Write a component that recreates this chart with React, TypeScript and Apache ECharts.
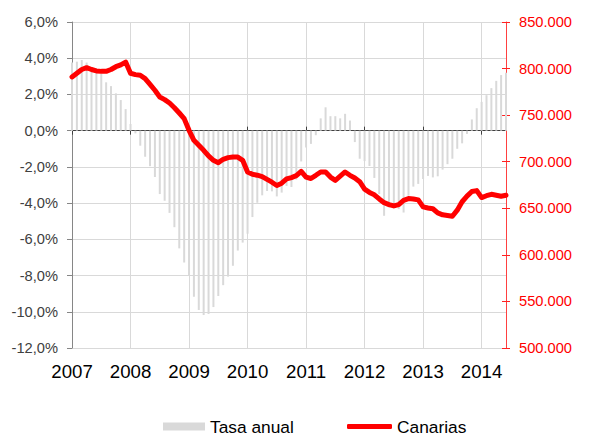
import React, { useEffect, useRef } from "react";
import * as echarts from "echarts";

const years = ["2007", "2008", "2009", "2010", "2011", "2012", "2013", "2014"];
const monthsPerYear = [12, 12, 12, 12, 12, 12, 12, 6];

const tasaAnual: number[] = [
  // 2007
  3.76, 3.81, 3.9, 3.76, 3.5, 3.3, 3.15, 2.67, 2.46, 2.06, 1.69, 1.19,
  // 2008
  0.37, -0.15, -0.83, -1.44, -1.96, -2.56, -3.5, -3.87, -4.54, -5.33, -6.5, -7.28,
  // 2009
  -8.0, -9.17, -9.9, -10.18, -10.12, -9.74, -9.13, -8.53, -8.06, -7.46, -6.62, -6.18,
  // 2010
  -5.69, -4.77, -3.98, -3.57, -3.33, -3.35, -3.63, -3.42, -3.05, -3.11, -2.7, -1.7,
  // 2011
  -0.93, -0.73, -0.25, 0.68, 1.29, 0.8, 0.8, 0.68, 0.93, 0.56, -0.63, -1.55,
  // 2012
  -1.68, -1.95, -2.61, -3.5, -4.7, -4.24, -4.24, -4.33, -4.52, -3.59, -3.09, -2.94,
  // 2013
  -2.67, -2.5, -2.58, -2.52, -2.15, -1.85, -1.55, -1.0, -0.7, -0.18, 0.62, 1.24,
  // 2014
  1.59, 1.96, 2.35, 2.75, 3.07, 3.2,
];

const canarias: number[] = [
  // 2007
  791000, 795000, 799000, 801000, 799000, 797500, 797000, 797000, 799000, 802000, 804000, 807000,
  // 2008
  795000, 793500, 792800, 789200, 783000, 776700, 769500, 766700, 763000, 758000, 752300, 746300,
  // 2009
  733700, 723000, 717600, 712300, 706200, 701500, 699000, 702600, 704400, 705000, 705000, 701500,
  // 2010
  689000, 686500, 685500, 684000, 681000, 678000, 674500, 677000, 681500, 683000, 685000, 689700,
  // 2011
  683500, 682000, 685400, 689000, 689000, 683500, 680000, 684500, 689000, 685400, 682500, 678500,
  // 2012
  670500, 667000, 664500, 660000, 656000, 654000, 652500, 654000, 658500, 660400, 660000, 659000,
  // 2013
  651500, 650300, 649500, 645000, 643000, 642300, 641500, 648000, 657000, 663000, 668000, 669000,
  // 2014
  661500, 663500, 665000, 664000, 663000, 664000,
];

const leftTicks = { min: -12, max: 6, interval: 2 };
const rightTicks = { min: 500000, max: 850000, interval: 50000 };

const categories: string[] = [];
years.forEach((y, i) => {
  for (let m = 1; m <= monthsPerYear[i]; m++) {
    categories.push(`${y}-${m < 10 ? "0" + m : m}`);
  }
});

const FONT = "'Liberation Sans', Arial, sans-serif";

export default function App() {
  const ref = useRef<HTMLDivElement>(null);
  useEffect(() => {
    if (!ref.current) return;
    const chart = echarts.init(ref.current, undefined, { renderer: "svg" });
    const gridTop = 22;
    const gridHeight = 326;
    const zeroFromTop = (leftTicks.max / (leftTicks.max - leftTicks.min)) * gridHeight;
    chart.setOption({
      animation: false,
      backgroundColor: "#ffffff",
      textStyle: { fontFamily: FONT },
      grid: { left: 72, top: gridTop, width: 434, height: gridHeight, containLabel: false },
      legend: [
        {
          data: [{ name: "Tasa anual", icon: "rect" }],
          left: 158,
          top: 413,
          itemWidth: 42,
          itemHeight: 8,
          itemGap: 0,
          textStyle: { fontSize: 17.33, color: "#000", fontFamily: FONT },
        },
        {
          data: [{ name: "Canarias", icon: "roundRect" }],
          left: 342,
          top: 413,
          itemWidth: 45,
          itemHeight: 5,
          itemGap: 0,
          itemStyle: { borderWidth: 0 },
          lineStyle: { width: 0 },
          textStyle: { fontSize: 17.33, color: "#000", fontFamily: FONT },
        },
      ],
      xAxis: [
        {
          type: "category",
          data: categories,
          boundaryGap: false,
          position: "bottom",
          axisLine: { show: false, onZero: false },
          axisTick: { show: false },
          axisLabel: {
            interval: 11,
            formatter: (v: string) => v.slice(0, 4),
            fontSize: 18.67,
            color: "#000",
            margin: 14,
            fontFamily: FONT,
          },
          splitLine: { show: true, interval: 11, lineStyle: { color: "#d9d9d9", width: 1 } },
        },
        {
          type: "category",
          data: categories,
          boundaryGap: false,
          position: "bottom",
          offset: -(gridHeight - zeroFromTop),
          axisLine: { show: true, onZero: false, lineStyle: { color: "#404040", width: 1 } },
          axisTick: { show: true, interval: 11, length: 4, lineStyle: { color: "#404040" } },
          axisLabel: { show: false },
          splitLine: { show: false },
        },
        {
          type: "category",
          data: categories,
          boundaryGap: false,
          position: "top",
          offset: -zeroFromTop,
          axisLine: { show: false, onZero: false },
          axisTick: { show: true, interval: 11, length: 4, lineStyle: { color: "#404040" } },
          axisLabel: { show: false },
          splitLine: { show: false },
        },
      ],
      yAxis: [
        {
          type: "value",
          min: leftTicks.min,
          max: leftTicks.max,
          interval: leftTicks.interval,
          position: "left",
          axisLine: { show: true, lineStyle: { color: "#868686", width: 1 } },
          axisTick: { show: true, length: 5, lineStyle: { color: "#868686" } },
          axisLabel: {
            formatter: (v: number) => v.toFixed(1).replace(".", ",") + "%",
            fontSize: 14.67,
            color: "#404040",
            margin: 14,
            fontFamily: FONT,
          },
          splitLine: { show: true, lineStyle: { color: "#d9d9d9", width: 1 } },
        },
        {
          type: "value",
          min: rightTicks.min,
          max: rightTicks.max,
          interval: rightTicks.interval,
          position: "right",
          axisLine: { show: true, lineStyle: { color: "#ff4040", width: 1 } },
          axisTick: { show: true, length: 4, lineStyle: { color: "#ff2020" } },
          axisLabel: {
            formatter: (v: number) => Math.round(v / 1000) + ".000",
            fontSize: 14.67,
            color: "#ff0000",
            margin: 13,
            fontFamily: FONT,
          },
          splitLine: { show: false },
        },
        {
          type: "value",
          min: rightTicks.min,
          max: rightTicks.max,
          interval: rightTicks.interval,
          position: "right",
          axisLine: { show: false },
          axisTick: { show: true, inside: true, length: 4, lineStyle: { color: "#ff2020" } },
          axisLabel: { show: false },
          splitLine: { show: false },
        },
      ],
      series: [
        {
          name: "Tasa anual",
          type: "bar",
          xAxisIndex: 0,
          yAxisIndex: 0,
          data: tasaAnual,
          barWidth: 2,
          itemStyle: { color: "#d9d9d9" },
          z: 1,
        },
        {
          name: "Canarias",
          type: "line",
          xAxisIndex: 0,
          yAxisIndex: 1,
          data: canarias,
          showSymbol: false,
          symbol: "none",
          lineStyle: { color: "#ff0000", width: 5, cap: "round", join: "round" },
          itemStyle: { color: "#ff0000" },
          z: 5,
        },
      ],
    });
    return () => chart.dispose();
  }, []);
  return (
    <div
      ref={ref}
      style={{ position: "fixed", left: 0, top: 0, width: 591, height: 435, background: "#fff" }}
    />
  );
}
